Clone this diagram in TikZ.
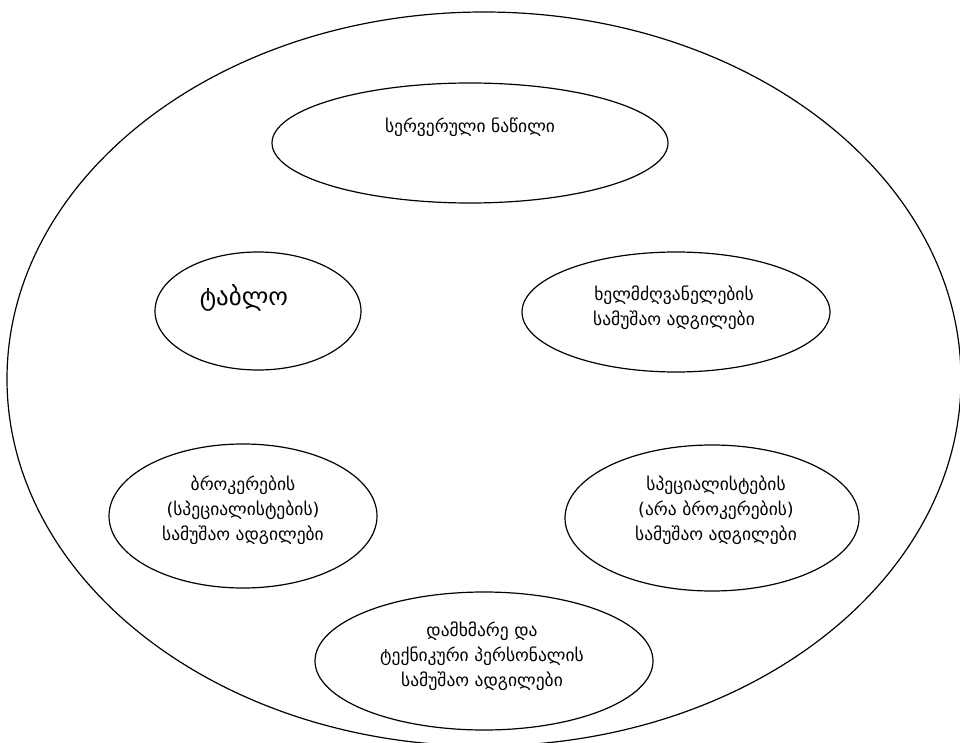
\documentclass[tikz,border=0pt]{standalone}
\usepackage{fontspec}
\setmainfont{DejaVu Sans}
\usetikzlibrary{shapes.geometric}
\begin{document}
\begin{tikzpicture}[x=1pt,y=-1pt,
  area/.style={draw=black, line width=1.2pt, ellipse, inner sep=0pt},
  caption/.style={font=\fontsize{17.5}{25}\selectfont, align=center, inner sep=0pt}]
  \useasboundingbox (0,0) rectangle (960,743);
  % outer boundary
  \node[area, minimum width=954, minimum height=734] (outer) at (484,379) {};
  % inner areas
  \node[area, minimum width=396, minimum height=120] (server) at (470,143) {};
  \node[area, minimum width=206, minimum height=118] (tablo) at (258,311) {};
  \node[area, minimum width=308, minimum height=120] (heads) at (676,312) {};
  \node[area, minimum width=268, minimum height=144] (brokers) at (243,516) {};
  \node[area, minimum width=294, minimum height=146] (spec) at (712,518) {};
  \node[area, minimum width=338, minimum height=138] (staff) at (484,661) {};
  % texts
  \node[caption] (tserver) at (470,127) {სერვერული ნაწილი};
  \node[caption, font=\fontsize{25}{30}\selectfont] (ttablo) at (244,298) {ტაბლო};
  \node[caption] (theads) at (674,308) {ხელმძღვანელების\\სამუშაო ადგილები};
  \node[caption] (tbrokers) at (243,510) {ბროკერების\\(სპეციალისტების)\\სამუშაო ადგილები};
  \node[caption] (tspec) at (716,510) {სპეციალისტების\\(არა ბროკერების)\\სამუშაო ადგილები};
  \node[caption] (tstaff) at (482,656) {დამხმარე და\\ტექნიკური პერსონალის\\სამუშაო ადგილები};
\end{tikzpicture}
\end{document}
